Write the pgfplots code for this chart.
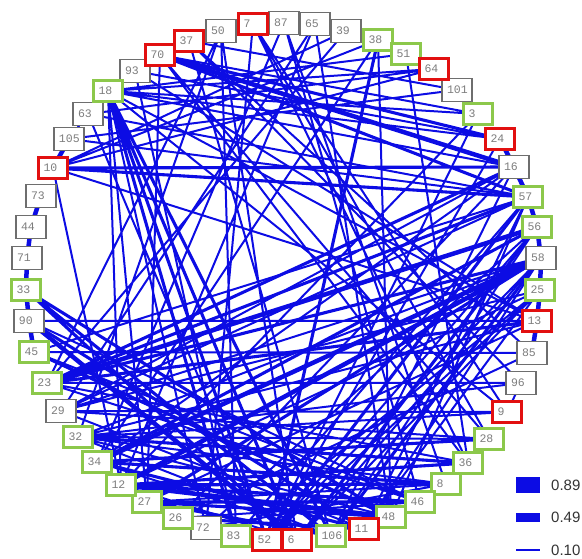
\documentclass[border=0pt]{standalone}
\usepackage{pgfplots}
\pgfplotsset{compat=1.18}
\usepackage{fontspec}
\setmainfont{Liberation Sans}
\newfontfamily\monofont{Liberation Mono}
\definecolor{edgeblue}{RGB}{12,12,228}
\definecolor{boxred}{RGB}{226,16,16}
\definecolor{boxgreen}{RGB}{140,200,75}
\definecolor{boxgray}{RGB}{110,110,110}
\definecolor{txtgray}{RGB}{125,125,125}
\begin{document}
\begin{tikzpicture}
\begin{axis}[width=582pt, height=558pt, scale only axis,
  xmin=0, xmax=582, ymin=0, ymax=558, hide axis, clip=false,
  unbounded coords=jump]
% ---- thin edges ----
\addplot[edgeblue, line width=2pt] table {
x y
53 390
537 237
nan nan
53 390
121 73
nan nan
53 390
378 518
nan nan
53 390
434 489
nan nan
108 467
514 391
nan nan
108 467
500 419
nan nan
108 467
537 237
nan nan
108 467
507 146
nan nan
108 467
206 30
nan nan
108 467
121 73
nan nan
108 467
147 56
nan nan
160 503
478 444
nan nan
160 503
147 56
nan nan
160 503
489 119
nan nan
160 503
468 95
nan nan
189 517
532 205
nan nan
189 517
521 175
nan nan
221 527
47 175
nan nan
221 527
78 121
nan nan
221 527
236 22
nan nan
253 534
507 146
nan nan
253 534
489 119
nan nan
253 534
206 30
nan nan
284 535
446 74
nan nan
284 535
97 96
nan nan
315 534
391 41
nan nan
315 534
61 147
nan nan
346 527
47 175
nan nan
346 527
53 390
nan nan
378 518
391 41
nan nan
378 518
97 96
nan nan
406 504
468 95
nan nan
406 504
108 467
nan nan
434 489
108 467
nan nan
434 489
88 444
nan nan
457 468
189 517
nan nan
457 468
69 419
nan nan
478 444
108 467
nan nan
478 444
121 73
nan nan
500 419
135 487
nan nan
514 391
61 147
nan nan
514 391
97 96
nan nan
528 361
61 147
nan nan
528 361
236 22
nan nan
528 361
34 206
nan nan
537 331
47 175
nan nan
537 331
267 18
nan nan
541 300
78 121
nan nan
541 300
61 147
nan nan
540 268
121 73
nan nan
540 268
267 18
nan nan
537 237
78 121
nan nan
537 237
147 56
nan nan
537 237
135 487
nan nan
532 205
178 40
nan nan
521 175
78 121
nan nan
521 175
47 175
nan nan
507 146
61 147
nan nan
489 119
78 121
nan nan
468 95
47 175
nan nan
446 74
147 56
nan nan
420 56
29 237
nan nan
391 41
34 206
nan nan
364 29
61 147
nan nan
364 29
541 300
nan nan
331 22
514 391
nan nan
331 22
78 121
nan nan
297 18
540 268
nan nan
267 18
500 419
nan nan
267 18
478 444
nan nan
267 18
88 444
nan nan
236 22
135 487
nan nan
206 30
537 331
nan nan
178 40
514 391
nan nan
88 444
528 361
nan nan
29 237
537 237
nan nan
189 517
331 22
nan nan
221 527
297 18
nan nan
34 206
532 205
nan nan
315 534
121 73
nan nan
284 535
420 56
nan nan
253 534
468 95
nan nan
69 419
528 361
nan nan
61 147
540 268
nan nan
78 121
507 146
nan nan
78 121
446 74
nan nan
34 206
420 56
nan nan
61 147
489 119
nan nan
88 444
69 419
nan nan
521 175
507 146
nan nan
267 18
541 300
nan nan
297 18
541 300
nan nan
331 22
537 331
nan nan
364 29
528 361
nan nan
364 29
540 268
nan nan
391 41
528 361
nan nan
236 22
540 268
nan nan
47 175
420 56
nan nan
78 121
391 41
nan nan
61 147
364 29
nan nan
178 40
420 56
nan nan
206 30
446 74
nan nan
97 96
331 22
nan nan
121 73
297 18
};
% ---- medium edges ----
\addplot[edgeblue, line width=3.1pt] table {
x y
53 390
514 391
nan nan
53 390
528 361
nan nan
160 503
500 419
nan nan
160 503
528 361
nan nan
108 467
267 18
nan nan
108 467
297 18
nan nan
108 467
236 22
nan nan
108 467
331 22
nan nan
26 268
331 22
nan nan
26 268
391 41
nan nan
29 237
364 29
nan nan
47 175
541 300
nan nan
47 175
537 237
nan nan
47 175
528 361
nan nan
97 96
537 331
nan nan
97 96
489 119
nan nan
121 73
420 56
nan nan
147 56
391 41
nan nan
97 96
364 29
nan nan
178 40
364 29
nan nan
147 56
331 22
nan nan
121 73
468 95
nan nan
121 73
446 74
nan nan
537 331
297 18
nan nan
528 361
267 18
nan nan
541 300
331 22
nan nan
378 518
267 18
nan nan
541 300
147 56
nan nan
47 175
514 391
nan nan
78 121
468 95
nan nan
26 268
297 18
nan nan
34 206
391 41
nan nan
97 96
446 74
nan nan
147 56
420 56
};
% ---- thick edges ----
\addplot[edgeblue, line width=4.5pt] table {
x y
160 503
514 391
nan nan
29 237
297 18
nan nan
97 96
541 300
nan nan
121 73
391 41
nan nan
121 73
541 300
nan nan
47 175
537 331
nan nan
41 362
31 331
nan nan
31 331
27 300
nan nan
27 300
26 268
nan nan
26 268
29 237
nan nan
29 237
34 206
nan nan
514 391
528 361
nan nan
528 361
537 331
nan nan
537 331
541 300
nan nan
541 300
540 268
nan nan
540 268
537 237
nan nan
537 237
532 205
nan nan
406 504
434 489
nan nan
500 419
514 391
nan nan
97 96
121 73
nan nan
121 73
147 56
nan nan
147 56
178 40
nan nan
69 419
53 390
};
% ---- node boxes ----
\addplot[only marks, mark=none, point meta=explicit symbolic,
  nodes near coords, nodes near coords align=center,
  nodes near coords style={anchor=center, draw=boxgray, line width=1.2pt, fill=white,
    text=txtgray, font={\fontsize{11.5}{12}\selectfont\monofont},
    text width=20pt, align=left, inner xsep=5pt, inner ysep=0pt, minimum height=22.5pt}]
table[meta=label] {
x y label
284 535 87
315 534 65
346 527 39
457 468 101
514 391 16
541 300 58
532 205 85
521 175 96
206 30 72
61 147 29
29 237 90
27 300 71
31 331 44
41 362 73
69 419 105
88 444 63
135 487 93
221 527 50
};
\addplot[only marks, mark=none, point meta=explicit symbolic,
  nodes near coords, nodes near coords align=center,
  nodes near coords style={anchor=center, draw=boxgreen, line width=3pt, fill=white,
    text=txtgray, font={\fontsize{11.5}{12}\selectfont\monofont},
    text width=19pt, align=left, inner xsep=5pt, inner ysep=0pt, minimum height=21.5pt}]
table[meta=label] {
x y label
378 518 38
406 504 51
478 444 3
528 361 57
537 331 56
540 268 25
489 119 28
468 95 36
446 74 8
420 56 46
391 41 48
331 22 106
236 22 83
178 40 26
147 56 27
121 73 12
97 96 34
78 121 32
47 175 23
34 206 45
26 268 33
108 467 18
};
\addplot[only marks, mark=none, point meta=explicit symbolic,
  nodes near coords, nodes near coords align=center,
  nodes near coords style={anchor=center, draw=boxred, line width=3pt, fill=white,
    text=txtgray, font={\fontsize{11.5}{12}\selectfont\monofont},
    text width=19pt, align=left, inner xsep=5pt, inner ysep=0pt, minimum height=21.5pt}]
table[meta=label] {
x y label
253 534 7
434 489 64
500 419 24
537 237 13
507 146 9
364 29 11
297 18 6
267 18 52
53 390 10
160 503 70
189 517 37
};
% ---- legend ----
\addplot[edgeblue, line width=16pt] coordinates {(516,73) (540,73)};
\addplot[edgeblue, line width=9pt] coordinates {(516,40.5) (540,40.5)};
\addplot[edgeblue, line width=1.8pt] coordinates {(516,8) (540,8)};
\node[anchor=west, inner sep=0pt, text=black!80, font=\fontsize{15}{16}\selectfont] at (axis cs:551,73) {0.89};
\node[anchor=west, inner sep=0pt, text=black!80, font=\fontsize{15}{16}\selectfont] at (axis cs:551,40.5) {0.49};
\node[anchor=west, inner sep=0pt, text=black!80, font=\fontsize{15}{16}\selectfont] at (axis cs:551,8) {0.10};
\end{axis}
\pgfresetboundingbox
\path (current axis.south west) rectangle (current axis.north east);
\end{tikzpicture}
\end{document}
